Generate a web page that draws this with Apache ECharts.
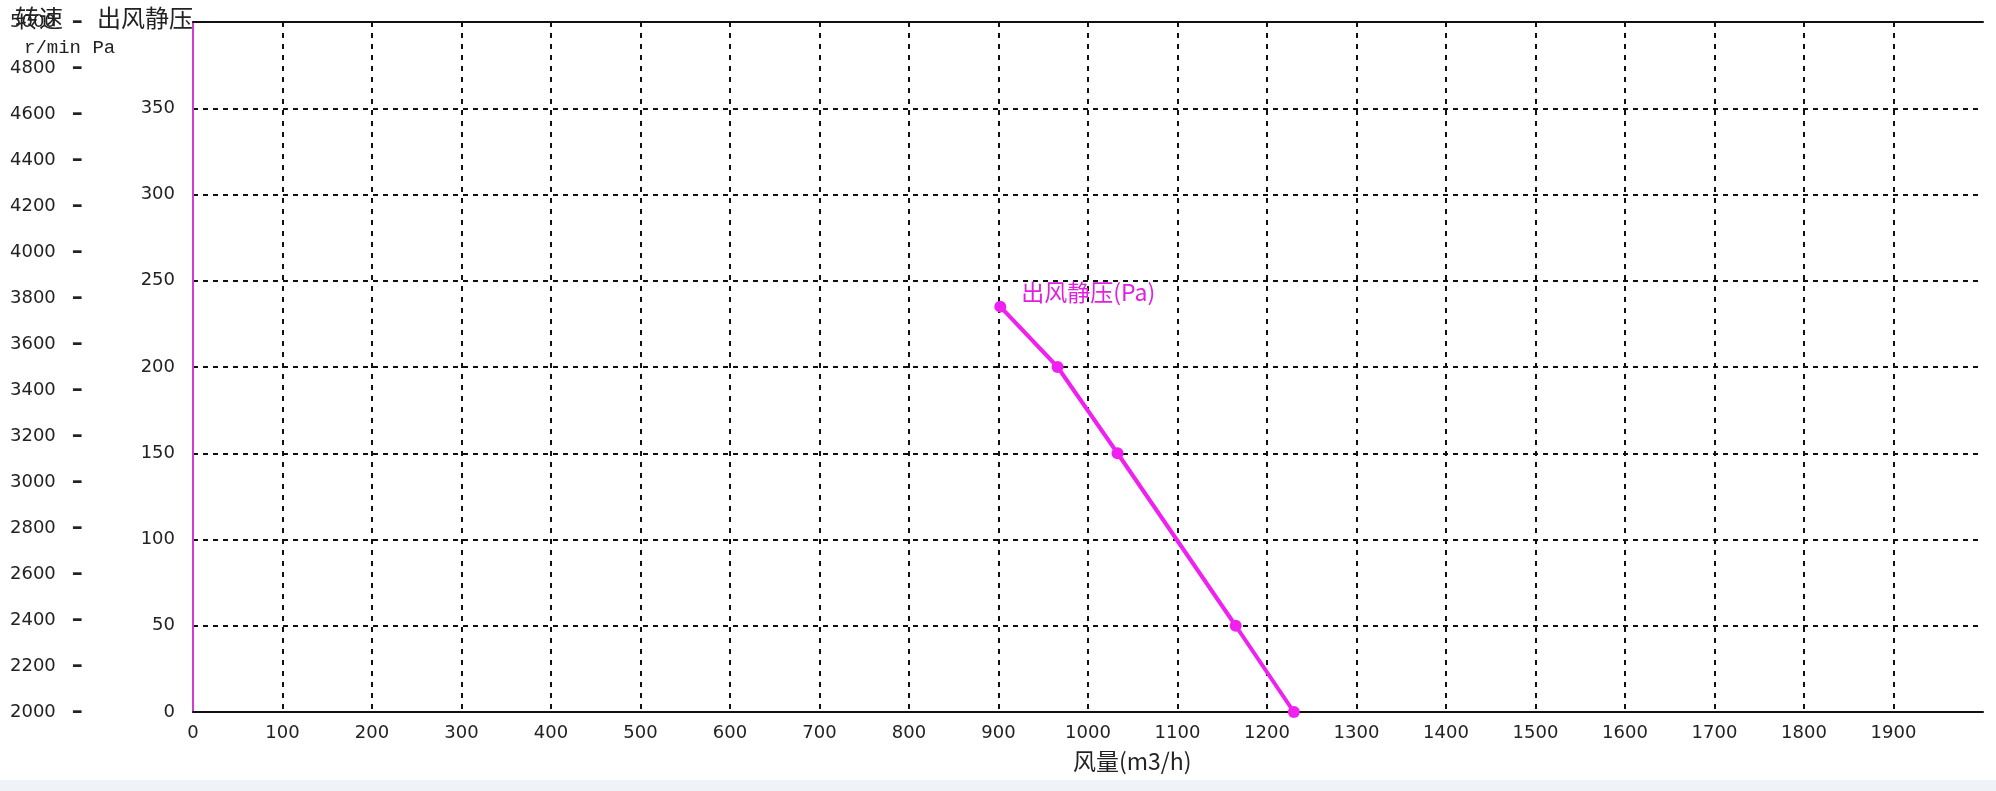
<!DOCTYPE html>
<html>
<head>
<meta charset="utf-8">
<script src="https://cdn.jsdelivr.net/npm/echarts@6/dist/echarts.min.js"></script>
<style>
html,body{margin:0;padding:0;background:#fff;}
#main{width:1996px;height:791px;}
</style>
</head>
<body>
<div id="main"></div>
<script>
// Data
var flowValues = [902, 966, 1033, 1165, 1230];      // 风量 (m3/h)
var pressureValues = [235, 200, 150, 50, 0];         // 出风静压 (Pa)
var xTicks = {min: 0, max: 2000, interval: 100};
var paTicks = {min: 0, max: 400, interval: 50};
var rpmTicks = {min: 2000, max: 5000, interval: 200};
var seriesName = '出风静压(Pa)';
var xName = '风量(m3/h)';
var titleSpeed = '转速';
var titlePressure = '出风静压';
var unitText = 'r/min Pa';

var numFont = '"DejaVu Sans", sans-serif';
var monoFont = '"Liberation Mono", "DejaVu Sans Mono", monospace';
var cjkFont = '"Noto Sans CJK SC", sans-serif';

var chart = echarts.init(document.getElementById('main'));
var data = flowValues.map(function (x, i) { return [x, pressureValues[i]]; });

chart.setOption({
  animation: false,
  backgroundColor: '#ffffff',
  grid: {left: 193, right: 13, top: 22, bottom: 79, containLabel: false},
  xAxis: [{
    type: 'value', min: xTicks.min, max: xTicks.max, interval: xTicks.interval,
    position: 'bottom',
    axisLine: {show: true, onZero: false, lineStyle: {color: '#111', width: 2}},
    axisTick: {show: false},
    axisLabel: {showMaxLabel: false, margin: 12, fontFamily: numFont, fontSize: 18, color: '#222',
      formatter: function (v) { return String(v); }},
    splitLine: {show: true, showMinLine: false, showMaxLine: false, lineStyle: {color: '#111', type: [5, 6], width: 2}}
  }, {
    type: 'value', min: xTicks.min, max: xTicks.max, position: 'top',
    axisLine: {show: true, onZero: false, lineStyle: {color: '#111', width: 2}},
    axisTick: {show: false}, axisLabel: {show: false}, splitLine: {show: false}
  }],
  yAxis: [{
    type: 'value', min: paTicks.min, max: paTicks.max, interval: paTicks.interval,
    position: 'left',
    axisLine: {show: true, onZero: false, lineStyle: {color: '#d23cd2', width: 2}},
    axisTick: {show: false},
    axisLabel: {showMaxLabel: false, margin: 18, fontFamily: numFont, fontSize: 18, color: '#222',
      formatter: function (v) { return String(v); }},
    splitLine: {show: true, showMinLine: false, showMaxLine: false, lineStyle: {color: '#111', type: [5, 5], width: 2}}
  }, {
    type: 'value', min: rpmTicks.min, max: rpmTicks.max, interval: rpmTicks.interval,
    position: 'left', offset: 0,
    axisLine: {show: false}, axisTick: {show: false}, splitLine: {show: false},
    axisLabel: {
      showMaxLabel: true,
      margin: 183, align: 'left', fontFamily: numFont, fontSize: 18, color: '#222',
      formatter: function (v) { return '{n|' + v + '}{d|\u2013}'; },
      rich: {
        n: {fontFamily: numFont, fontSize: 18, color: '#222'},
        d: {fontFamily: numFont, fontSize: 22, fontWeight: 'bold', color: '#222', padding: [0, 0, 0, 16]}
      }
    }
  }],
  series: [{
    type: 'line', name: seriesName, xAxisIndex: 0, yAxisIndex: 0,
    data: data,
    symbol: 'circle', symbolSize: 12,
    lineStyle: {color: '#f020f0', width: 4},
    itemStyle: {color: '#f020f0'},
    label: {
      show: true,
      formatter: function (p) { return p.dataIndex === 0 ? seriesName : ''; },
      position: 'right', offset: [10, -14],
      fontFamily: cjkFont, fontSize: 23, color: '#e020e0'
    }
  }],
  graphic: [
    {type: 'rect', left: 0, top: 780, shape: {width: 1996, height: 11}, style: {fill: '#eff2f7'}, z: -1},
    {type: 'text', left: 15, top: 6, style: {text: titleSpeed, font: '24px ' + cjkFont, fill: '#222'}, z: 10},
    {type: 'text', left: 97, top: 6, style: {text: titlePressure, font: '24px ' + cjkFont, fill: '#222'}, z: 10},
    {type: 'text', left: 24, top: 38, style: {text: unitText, font: '19px ' + monoFont, fill: '#222'}, z: 10},
    {type: 'text', left: 1073, top: 750, style: {text: xName, font: '23px ' + cjkFont, fill: '#222'}, z: 10}
  ]
});
</script>
</body>
</html>
